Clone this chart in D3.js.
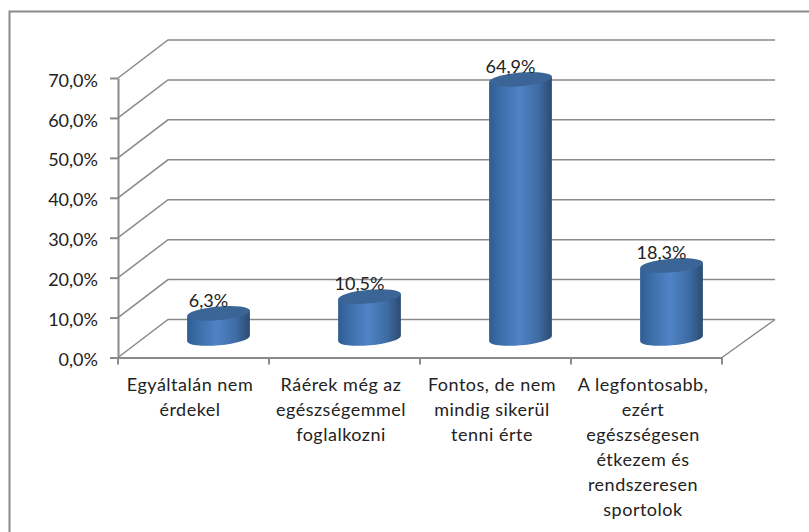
<!doctype html>
<html lang="hu">
<head>
  <meta charset="utf-8">
  <title>Chart</title>
  <script src="https://cdn.jsdelivr.net/npm/d3@7/dist/d3.min.js"></script>
  <style>
    html, body { margin: 0; padding: 0; background: #fff; }
    svg { display: block; }
    text { font-family: Lato, "Open Sans", sans-serif; fill: #222; }
  </style>
</head>
<body>
<div id="chart"></div>
<script>
// values
var categories = ['a', 'b', 'c', 'd'];
var categoryLines = [
  ['Egyáltalán nem', 'érdekel'],
  ['Ráérek még az', 'egészségemmel', 'foglalkozni'],
  ['Fontos, de nem', 'mindig sikerül', 'tenni érte'],
  ['A legfontosabb,', 'ezért', 'egészségesen', 'étkezem és', 'rendszeresen', 'sportolok']
];
var values = [6.3, 10.5, 64.9, 18.3];
var valueLabels = ['6,3%', '10,5%', '64,9%', '18,3%'];
var tickValues = [0, 10, 20, 30, 40, 50, 60, 70];
var tickLabels = ['0,0%', '10,0%', '20,0%', '30,0%', '40,0%', '50,0%', '60,0%', '70,0%'];

var width = 809, height = 532;
var depthX = 50, depthY = 38;
var gridColor = '#8a8a8a';

var x = d3.scaleBand().domain(categories).range([118, 722]);
var y = d3.scaleLinear().domain([0, 70]).range([357.5, 78]);

var svg = d3.select('#chart').append('svg')
  .attr('width', width)
  .attr('height', height);

var defs = svg.append('defs');
var grad = defs.append('linearGradient').attr('id', 'cyl');
grad.append('stop').attr('offset', '0%').attr('stop-color', '#2f5d94');
grad.append('stop').attr('offset', '18%').attr('stop-color', '#3c6ea9');
grad.append('stop').attr('offset', '48%').attr('stop-color', '#5083c6');
grad.append('stop').attr('offset', '78%').attr('stop-color', '#3e6ca4');
grad.append('stop').attr('offset', '100%').attr('stop-color', '#2b4b72');

// outer frame, runs off the right and bottom of the picture
svg.append('path')
  .attr('d', 'M' + width + ',11.5H9.5V' + height)
  .attr('fill', 'none')
  .attr('stroke', gridColor)
  .attr('stroke-width', 2);

// back wall lines and the side wall going to them
var grid = svg.append('g')
  .attr('fill', 'none')
  .attr('stroke', gridColor)
  .attr('stroke-width', 1.5);

grid.selectAll('path')
  .data(tickValues)
  .enter().append('path')
  .attr('d', function(d) {
    return 'M' + x.range()[0] + ',' + y(d) +
      'L' + (x.range()[0] + depthX) + ',' + (y(d) - depthY) +
      'H' + (x.range()[1] + depthX + 3);
  });

// floor edge on the right
grid.append('path')
  .attr('d', 'M' + x.range()[1] + ',' + y(0) +
    'L' + (x.range()[1] + depthX + 3) + ',' + (y(0) - depthY));

// axes
var yAxis = d3.axisLeft(y)
  .tickValues(tickValues)
  .tickFormat(function(d, i) { return tickLabels[i]; })
  .tickSize(8)
  .tickPadding(12)
  .tickSizeOuter(0);

var yg = svg.append('g')
  .attr('transform', 'translate(' + x.range()[0] + ',0)')
  .call(yAxis);
yg.selectAll('text').style('font-size', '18px').attr('dy', '0.45em');

var xAxis = d3.axisBottom(x)
  .tickValues([])
  .tickSizeOuter(0);

var xg = svg.append('g')
  .attr('transform', 'translate(0,' + y(0) + ')')
  .call(xAxis);

var bandEdges = categories.map(function(c) { return x(c); }).concat([x.range()[1]]);
xg.selectAll('line.edge')
  .data(bandEdges)
  .enter().append('line')
  .attr('class', 'edge')
  .attr('x1', function(d) { return d; })
  .attr('x2', function(d) { return d; })
  .attr('y1', 0)
  .attr('y2', 7);

svg.selectAll('.domain, g line')
  .attr('stroke', gridColor)
  .attr('stroke-width', 2);

// cylinders
var rx = 31.5, ry = 6.8, tilt = -5;
var tiltRad = tilt * Math.PI / 180;
var dx = rx * Math.cos(tiltRad), dy = rx * Math.sin(tiltRad);

function cx(i) { return x(categories[i]) + x.bandwidth() / 2 + depthX / 2; }
function topY(v) { return y(v) - depthY / 2; }

var bars = svg.selectAll('g.bar')
  .data(values)
  .enter().append('g')
  .attr('class', 'bar');

bars.append('path')
  .attr('fill', 'url(#cyl)')
  .attr('d', function(d, i) {
    var c = cx(i), t = topY(d), b = topY(0);
    return 'M' + (c - dx) + ',' + (t - dy) +
      'L' + (c - dx) + ',' + (b - dy) +
      'A' + rx + ',' + ry + ' ' + tilt + ' 0 0 ' + (c + dx) + ',' + (b + dy) +
      'L' + (c + dx) + ',' + (t + dy) + 'Z';
  });

bars.append('ellipse')
  .attr('fill', '#3a6596')
  .attr('cx', function(d, i) { return cx(i); })
  .attr('cy', function(d) { return topY(d); })
  .attr('rx', rx)
  .attr('ry', ry)
  .attr('transform', function(d, i) {
    return 'rotate(' + tilt + ' ' + cx(i) + ' ' + topY(d) + ')';
  });

bars.append('text')
  .attr('x', function(d, i) { return cx(i) - 10; })
  .attr('y', function(d) { return topY(d) - 13; })
  .attr('dy', '0.35em')
  .attr('text-anchor', 'middle')
  .style('font-size', '18px')
  .text(function(d, i) { return valueLabels[i]; });

// category labels
var labels = svg.selectAll('text.cat')
  .data(categories)
  .enter().append('text')
  .attr('class', 'cat')
  .attr('text-anchor', 'middle')
  .style('font-size', '18px')
  .style('letter-spacing', '0.5px');

labels.selectAll('tspan')
  .data(function(d, i) { return categoryLines[i]; })
  .enter().append('tspan')
  .attr('x', function() { return x(d3.select(this.parentNode).datum()) + x.bandwidth() / 2 - 3.5; })
  .attr('y', function(d, i) { return 391 + i * 25; })
  .text(function(d) { return d; });
</script>
</body>
</html>
